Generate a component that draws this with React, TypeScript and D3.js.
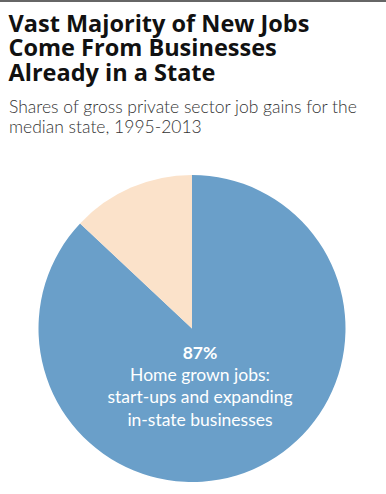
import React from "react";
import * as d3 from "d3";

const W = 386;
const H = 494;

const categories = ["Home grown jobs", "Jobs from outside the state"];
const shares = [87, 13];
const colors = ["#6a9fc9", "#fbe2ca"];

const titleLines = ["Vast Majority of New Jobs", "Come From Businesses", "Already in a State"];
const subtitleLines = ["Shares of gross private sector job gains for the", "median state, 1995-2013"];
const labelPct = "87%";
const labelLines = ["Home grown jobs:", "start-ups and expanding", "in-state businesses"];

export default function App() {
  const cx = 192;
  const cy = 328.5;
  const r = 153.5;
  const pie = d3.pie<number>().sort(null).value((d) => d);
  const arcs = pie(shares);
  const arc = d3.arc<d3.PieArcDatum<number>>().innerRadius(0).outerRadius(r);
  const font = "Lato, 'Open Sans', sans-serif";
  return (
    <svg
      width={W}
      height={H}
      style={{ position: "absolute", left: 0, top: 0, background: "#fff" }}
    >
      <rect x={0} y={0} width={W} height={2} fill="#666" />
      {titleLines.map((t, i) => (
        <text
          key={t}
          x={8.5}
          y={31.5 + i * 24.5}
          fontFamily="'Open Sans', sans-serif"
          fontWeight={700}
          fontSize={23.5}
          fill="#111"
        >
          {t}
        </text>
      ))}
      {subtitleLines.map((t, i) => (
        <text
          key={t}
          x={9}
          y={113 + i * 20}
          fontFamily={font}
          fontWeight={300}
          fontSize={17.5}
          fill="#333"
        >
          {t}
        </text>
      ))}
      <g transform={`translate(${cx},${cy})`}>
        {arcs.map((a, i) => (
          <path key={categories[i]} d={arc(a) || ""} fill={colors[i]} />
        ))}
      </g>
      <text
        x={200}
        y={358.5}
        textAnchor="middle"
        fontFamily={font}
        fontWeight={700}
        fontSize={17.5}
        fill="#fff"
      >
        {labelPct}
      </text>
      {labelLines.map((t, i) => (
        <text
          key={t}
          x={200}
          y={380.5 + i * 22.5}
          textAnchor="middle"
          fontFamily={font}
          fontWeight={400}
          fontSize={17.5}
          fill="#fff"
        >
          {t}
        </text>
      ))}
    </svg>
  );
}
